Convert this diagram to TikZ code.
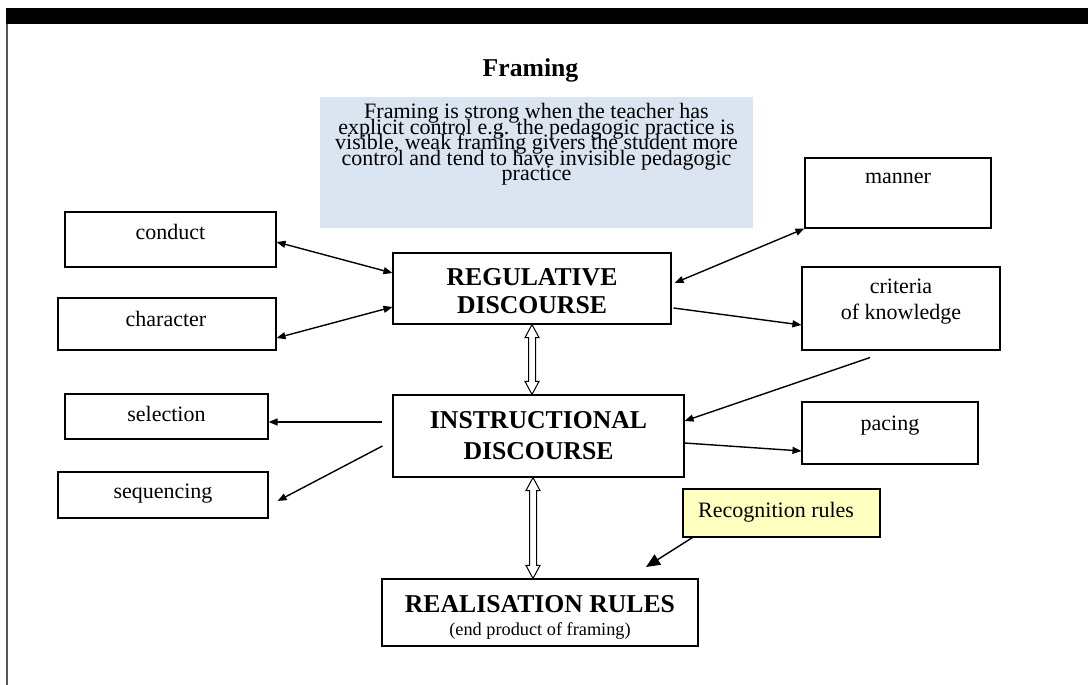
\documentclass[tikz,border=0pt]{standalone}
\usepackage{fontspec}
\setmainfont{Liberation Serif}
\usetikzlibrary{positioning,calc,arrows.meta}
\definecolor{notebg}{HTML}{DBE5F1}
\definecolor{rulebg}{HTML}{FFFFBF}
\definecolor{edgegray}{HTML}{555555}
\newcommand{\fbody}{\fontsize{22}{25.3}\selectfont}
\newcommand{\fsmall}{\fontsize{18.3}{21}\selectfont}
\newcommand{\fnote}{\fontsize{22}{15.4}\selectfont\lineskiplimit=-50pt\lineskip=0pt}
% hollow two-way arrow between two anchors (vertical)
\newcommand{\hollowlink}[2]{%
  \draw[hollow] let \p1=(#1), \p2=(#2) in
    (\x1,\y1) -- (\x1+7pt,\y1-13pt) -- (\x1+3.5pt,\y1-13pt) -- (\x1+3.5pt,\y2+13pt)
    -- (\x1+7pt,\y2+13pt) -- (\x1,\y2) -- (\x1-7pt,\y2+13pt) -- (\x1-3.5pt,\y2+13pt)
    -- (\x1-3.5pt,\y1-13pt) -- (\x1-7pt,\y1-13pt) -- cycle;}

\begin{document}
\begin{tikzpicture}[x=1pt, y=-1pt,
    >={Triangle[length=9pt,width=7pt]},
    box/.style={draw, rectangle, line width=1.1pt, inner sep=0pt},
    link/.style={line width=1.4pt, ->},
    twoway/.style={line width=1.4pt, <->},
    bigtip/.style={-{Triangle[length=14pt,width=12pt]}},
    hollow/.style={draw, fill=white, line width=1pt},
    head/.style={font={\fontsize{25.7}{28}\selectfont\bfseries}, align=center}]
    \useasboundingbox (0,0) rectangle (1088,685);

    % page frame
    \fill (6,8) rectangle (1088,24);
    \draw [edgegray, line width=1.5pt] (7,24) -- (7,685);

    \node [anchor=base, font={\fontsize{25.7}{28}\selectfont\bfseries}] (title) at (530.5,77) {Framing};

    % note box
    \node [fill=notebg, inner sep=0pt, minimum width=433pt, minimum height=131pt] (note) at (536.5,162.5) {};
    \node [anchor=base, font=\fnote, align=center] (notetxt) at (536.5,180.5)
        {Framing is strong when the teacher has\\explicit control e.g. the pedagogic practice is\\visible, weak framing givers the student more\\control and tend to have invisible pedagogic\\practice};

    % boxes
    \node [box, minimum width=211pt, minimum height=55pt] (conduct) at (170.5,239.5) {};
    \node [box, minimum width=218pt, minimum height=52pt] (character) at (167,324) {};
    \node [box, minimum width=186pt, minimum height=70pt] (manner) at (898,193) {};
    \node [box, minimum width=198pt, minimum height=83pt] (criteria) at (901,308.5) {};
    \node [box, minimum width=278pt, minimum height=71pt] (reg) at (532,288.5) {};
    \node [box, minimum width=203pt, minimum height=45pt] (selection) at (166.5,416.5) {};
    \node [box, minimum width=210pt, minimum height=46pt] (sequencing) at (163,495) {};
    \node [box, minimum width=291pt, minimum height=82pt] (inst) at (538.5,436) {};
    \node [box, minimum width=176pt, minimum height=62pt] (pacing) at (890,433) {};
    \node [box, fill=rulebg, minimum width=197pt, minimum height=48pt] (recog) at (781.5,513) {};
    \node [box, minimum width=316pt, minimum height=67pt] (real) at (540,612.5) {};

    % labels
    \node [anchor=base, font=\fbody] (conductlbl) at (170.5,239) {conduct};
    \node [anchor=base, font=\fbody] (characterlbl) at (166,326) {character};
    \node [anchor=base, font=\fbody] (mannerlbl) at (898,183) {manner};
    \node [anchor=base, font=\fbody, align=center] (criterialbl) at (901,319) {criteria\\of knowledge};
    \node [anchor=base, font=\fbody] (selectionlbl) at (166.5,421) {selection};
    \node [anchor=base, font=\fbody] (sequencinglbl) at (163,498) {sequencing};
    \node [anchor=base, font=\fbody] (pacinglbl) at (890,430) {pacing};
    \node [anchor=base, head] (reglbl) at (532,313) {REGULATIVE\\DISCOURSE};
    \node [anchor=base, head] (instlbl) at (538.5,459) {INSTRUCTIONAL\\[3pt]DISCOURSE};
    \node [anchor=base west, font=\fbody, inner sep=0pt] (recoglbl) at (698,517) {Recognition rules};
    \node [anchor=base, head] (reallbl) at (540,612) {REALISATION RULES};
    \node [anchor=base, font=\fsmall] (realsub) at (540,635) {(end product of framing)};

    % connectors
    \draw [twoway] ([yshift=-2.5pt]conduct.east) -- ([yshift=15.5pt]reg.west);
    \draw [twoway] ([yshift=-14pt]character.east) -- ([yshift=-18.5pt]reg.west);
    \draw [twoway] (manner.south west) -- ([xshift=3pt,yshift=5.5pt]reg.east);
    \draw [link] ([xshift=2pt,yshift=-19.5pt]reg.east) -- ([yshift=-16.5pt]criteria.west);
    \draw [link] ([xshift=-31pt,yshift=-7pt]criteria.south) -- ([yshift=15pt]inst.east);
    \draw [link] ([yshift=-7pt]inst.east) -- ([yshift=-18pt]pacing.west);
    \draw [link] ([xshift=-10pt,yshift=14pt]inst.west) -- ([yshift=-5.5pt]selection.east);
    \draw [link] ([xshift=-10pt,yshift=-10pt]inst.west) -- ([xshift=9pt,yshift=-6pt]sequencing.east);
    \coordinate (recogtip) at (646,567);
    \draw [line width=1.4pt, bigtip] ([xshift=10pt]recog.south west) -- (recogtip);

    \hollowlink{reg.south}{inst.north}
    \hollowlink{[xshift=-5.5pt]inst.south}{real.north}
\end{tikzpicture}
\end{document}
